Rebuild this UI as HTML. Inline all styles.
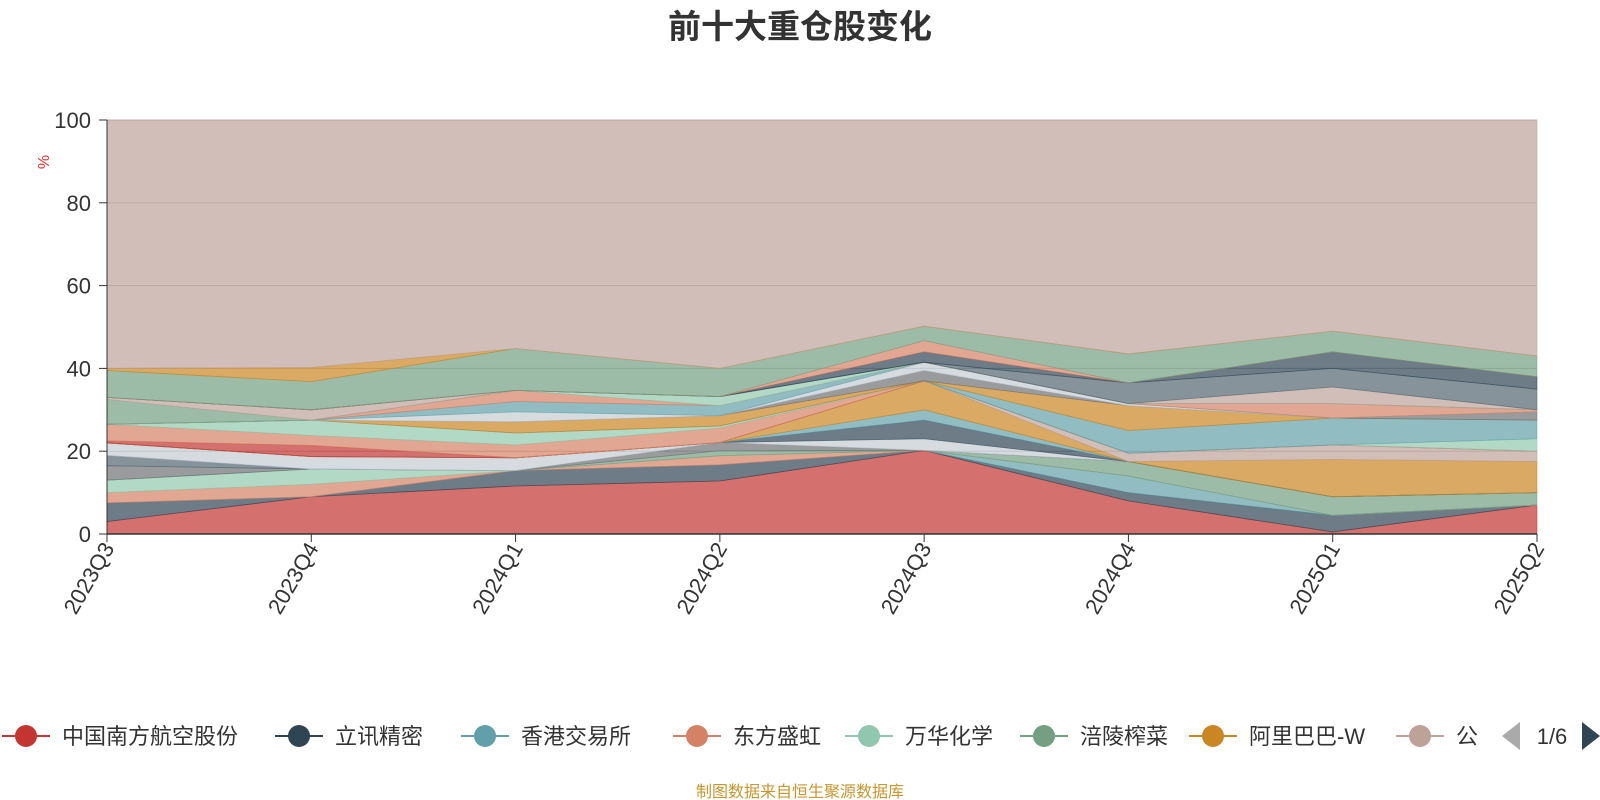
<!DOCTYPE html>
<html><head><meta charset="utf-8"><style>
body{margin:0;background:#fff;}
svg{display:block;font-family:"Liberation Sans","Noto Sans CJK SC",sans-serif;}
</style></head><body>
<svg id="chart" width="1600" height="800" viewBox="0 0 1600 800">
<text x="800" y="38" text-anchor="middle" font-size="33" font-weight="bold" fill="#333">前十大重仓股变化</text>
<text x="0" y="0" transform="translate(49,162) rotate(-90)" text-anchor="middle" font-size="16" fill="#e03030">%</text>
<g id="grid"></g><g id="areas"></g><g id="axes"></g><g id="legend"></g>
<text x="800" y="797" text-anchor="middle" font-size="16" fill="#c8962e">制图数据来自恒生聚源数据库</text>
</svg>
<script>
const categories=["2023Q3","2023Q4","2024Q1","2024Q2","2024Q3","2024Q4","2025Q1","2025Q2"];
const yTicks=[0,20,40,60,80,100];
const seriesNames=["中国南方航空股份","立讯精密","香港交易所","东方盛虹","万华化学","涪陵榨菜","阿里巴巴-W","公牛集团","贵州茅台","腾讯控股","美的集团","紫金矿业","宁德时代","比亚迪","招商银行","五粮液","中国海洋石油","山西汾酒","中国平安","美团-W","迈瑞医疗","伊利股份","海尔智家","泸州老窖","长江电力","福耀玻璃","药明康德","恒瑞医药","格力电器","洋河股份","其他"];
const s01=[3,9,11.6,12.8,20.2,8,0.5,7];
const s02=[4.5,0,3.7,3.9,0,2,4,0];
const s03=[0,0,0,0,0,4,0,0];
const s04=[2.5,3,0,2.2,0,0,0,0];
const s05=[3,3.7,0,0,0,0,0,0];
const s06=[0,0,0,1.2,0,3.5,4.5,3];
const s07=[3.5,0,0,2,0,0,0,0];
const s08=[2.5,0,0,0,0,0,0,0];
const s09=[3,3,3.1,0,2.8,0,0,0];
const s10=[0,0,0,0,4.5,0,0,0];
const s11=[0,0,0,0,2.5,0,0,0];
const s12=[0,0,0,0,7,0,9,7.5];
const s13=[0,0,0,0,0,2,3.5,2.5];
const s14=[0.5,2.7,0,0,0,0,0,0];
const s15=[4,2.4,3.1,3.5,0,0,0,0];
const s16=[0,3.7,2.9,0.5,0,0,0,3];
const s17=[0,0,0,0,0,5.5,6.5,4.5];
const s18=[0,0,2.7,2.5,0,6,0,0];
const s19=[0,0,0,0,2.5,0,0,2];
const s20=[0,0,2.4,0,2,0.5,0,0];
const s21=[0,0,2.5,2.4,0,0,0,0];
const s22=[0,0,2.7,0,0,0,3.5,0.5];
const s23=[0,0,0,2.2,0,0,0,0];
const s24=[6,0,0,0,0,0,0,0];
const s25=[0.5,2.5,0,0,0,0,4,0];
const s26=[0,0,0,0,0,5,4.5,5];
const s27=[0,0,0,0,2.5,0,4,3];
const s28=[0,0,0,0,2.7,0,0,0];
const s29=[6.5,6.8,10.1,6.8,3.5,7,5,5];
const s30=[0.5,3.4,0,0,0,0,0,0];
const seriesValues=[s01,s02,s03,s04,s05,s06,s07,s08,s09,s10,s11,s12,s13,s14,s15,s16,s17,s18,s19,s20,s21,s22,s23,s24,s25,s26,s27,s28,s29,s30];
const NS="http://www.w3.org/2000/svg";
const pal={red:"#c23531",dark:"#2f4554",teal:"#61a0a8",sal:"#d48265",mint:"#91c7ae",grn:"#749f83",org:"#ca8622",bei:"#bda29a",gry:"#6e7074",blg:"#546570",wht:"#c4ccd3"};
const seriesColors=[pal.red,pal.dark,pal.teal,pal.sal,pal.mint,pal.grn,pal.gry,pal.blg,pal.wht,pal.dark,pal.teal,pal.org,pal.bei,pal.red,pal.sal,pal.mint,pal.teal,pal.org,pal.gry,pal.wht,pal.teal,pal.sal,pal.mint,pal.grn,pal.bei,pal.blg,pal.dark,pal.sal,pal.grn,pal.org,pal.bei];
const X0=107,X1=1537,Y0=534,Y1=120;
const xs=i=>X0+(X1-X0)*i/(categories.length-1);
const ys=v=>Y0-(Y0-Y1)*v/100;
function mk(tag,attrs,parent){const e=document.createElementNS(NS,tag);for(const k in attrs)e.setAttribute(k,attrs[k]);parent.appendChild(e);return e;}
const grid=document.getElementById('grid'),areas=document.getElementById('areas'),axes=document.getElementById('axes'),legend=document.getElementById('legend');
yTicks.forEach(t=>{if(t>0){const l=mk('line',{x1:X0,x2:X1,y1:ys(t),y2:ys(t),stroke:"#bbb","stroke-width":1},grid);

}});
const allSeries=seriesValues.slice();
const topVals=categories.map((c,i)=>100-seriesValues.reduce((a,s)=>a+s[i],0));
allSeries.push(topVals);
let base=categories.map(()=>0);
allSeries.forEach((vals,si)=>{
  const top=base.map((b,i)=>b+vals[i]);
  let d="M"+top.map((v,i)=>xs(i)+","+ys(v)).join(" L");
  for(let i=categories.length-1;i>=0;i--)d+=" L"+xs(i)+","+ys(base[i]);
  d+=" Z";
  const p=mk('path',{d:d,fill:seriesColors[si],"fill-opacity":0.7,stroke:seriesColors[si],"stroke-width":0.8,"stroke-opacity":0.6},areas);
  
  
  base=top;
});
const ya=mk('line',{x1:X0,x2:X0,y1:Y1,y2:Y0,stroke:"#333","stroke-width":1},axes);


yTicks.forEach(t=>{
  mk('line',{x1:X0-8,x2:X0,y1:ys(t),y2:ys(t),stroke:"#333"},axes);
  const tx=mk('text',{x:X0-16,y:ys(t)+8,"text-anchor":"end","font-size":22,fill:"#333"},axes);
  tx.textContent=t;
  
  
});
const xa=mk('line',{x1:X0,x2:X1,y1:Y0,y2:Y0,stroke:"#333","stroke-width":1.5},axes);


categories.forEach((c,i)=>{
  mk('line',{x1:xs(i),x2:xs(i),y1:Y0,y2:Y0+8,stroke:"#333"},axes);
  const tx=mk('text',{x:0,y:0,transform:"translate("+(xs(i)+8)+","+(Y0+14)+") rotate(-60)","text-anchor":"end","font-size":22,fill:"#333"},axes);
  tx.textContent=c;
  
  
});
const legNames=seriesNames.slice(0,8);
const legColors=[pal.red,pal.dark,pal.teal,pal.sal,pal.mint,pal.grn,pal.org,pal.bei];
const legX=[26,299,485,697,869,1044,1213,1420];
legNames.forEach((n,i)=>{
  const g=mk('g',{},legend);
  
  
  mk('line',{x1:legX[i]-24,x2:legX[i]+24,y1:736,y2:736,stroke:legColors[i],"stroke-width":2},g);
  mk('circle',{cx:legX[i],cy:736,r:11,fill:legColors[i]},g);
  const t=mk('text',{x:legX[i]+36,y:744,"font-size":22,fill:"#333"},g);
  t.textContent=(i==7)?"公":n;
});
const pl=mk('path',{d:"M1520,722 L1520,750 L1502,736 Z",fill:"#aaa"},legend);


const pt=mk('text',{x:1552,y:744,"text-anchor":"middle","font-size":22,fill:"#333"},legend);
pt.textContent="1/6";


const pr=mk('path',{d:"M1582,722 L1582,750 L1600,736 Z",fill:"#2f4554"},legend);


</script>
</body></html>
